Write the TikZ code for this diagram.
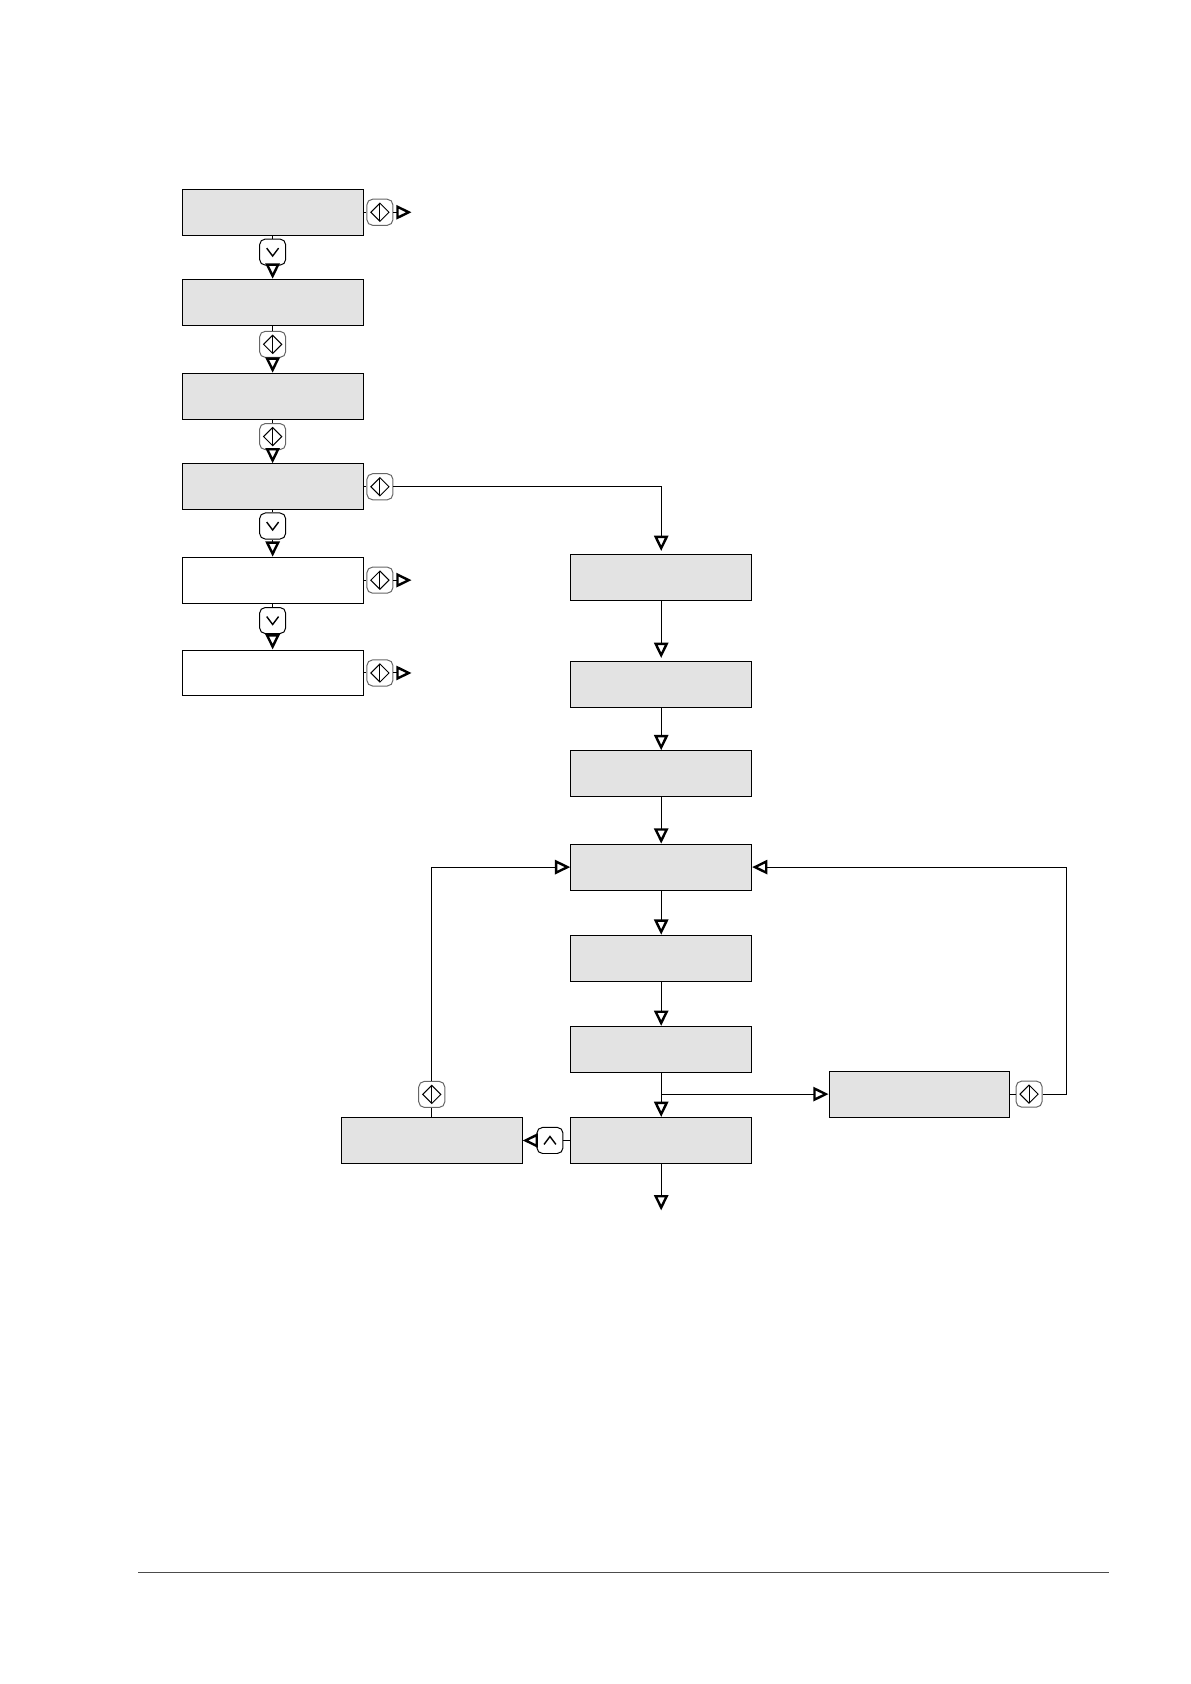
\documentclass[tikz,border=0pt]{standalone}
\usepackage{xcolor}
\usepackage{tikz}
\usetikzlibrary{positioning,arrows.meta}
\begin{document}
\begin{tikzpicture}[
  line width=0.5pt,
  gbox/.style={draw, fill=black!11, minimum width=3.19cm, minimum height=0.81cm, inner sep=0pt},
  wbox/.style={gbox, fill=white},
  keybase/.style={rounded corners=0.1cm, minimum size=0.46cm, inner sep=0pt, fill=white},
  keyok/.style={keybase, draw=black!60, path picture={
    \draw[black, sharp corners] (path picture bounding box.center) ++(0,0.16) -- ++(0.16,-0.16) -- ++(-0.16,-0.16) -- ++(-0.16,0.16) -- cycle;
    \draw[black, sharp corners] (path picture bounding box.center) ++(0,0.16) -- ++(0,-0.32);}},
  keydown/.style={keybase, draw, path picture={
    \draw[black, sharp corners, line width=0.7pt] (path picture bounding box.center) ++(-0.105,0.07) -- ++(0.105,-0.14) -- ++(0.105,0.14);}},
  keyup/.style={keybase, draw, path picture={
    \draw[black, sharp corners, line width=0.7pt] (path picture bounding box.center) ++(-0.105,-0.07) -- ++(0.105,0.14) -- ++(0.105,-0.14);}},
  flow/.style={-{Triangle[open, length=0.27cm, width=0.25cm, line width=1.2pt]}},
  short/.style={flow, shorten >=0.05cm}
]
\useasboundingbox (0,0) rectangle (21,-29.71);

\node[gbox] (b1) at (4.81,-3.745) {};
\node[gbox, below=0.76cm of b1] (b2) {};
\node[gbox, below=0.83cm of b2] (b3) {};
\node[gbox, below=0.77cm of b3] (b4) {};
\node[wbox, below=0.82cm of b4] (b5) {};
\node[wbox, below=0.81cm of b5] (b6) {};

\node[gbox] (r1) at (11.665,-10.185) {};
\node[gbox, below=1.06cm of r1] (r2) {};
\node[gbox, below=0.75cm of r2] (r3) {};
\node[gbox, below=0.82cm of r3] (r4) {};
\node[gbox, below=0.78cm of r4] (r5) {};
\node[gbox, below=0.78cm of r5] (r6) {};
\node[gbox, below=0.78cm of r6] (r7) {};
\node[gbox, left=0.84cm of r7] (back) {};
\node[gbox, right=1.35cm of r6, yshift=-0.79cm] (side) {};

\node[keyok, right=0.05cm of b1] (k1) {};
\node[keydown, below=0.05cm of b1] (k2) {};
\node[keyok, below=0.09cm of b2] (k3) {};
\node[keyok, below=0.06cm of b3] (k4) {};
\node[keyok, right=0.05cm of b4] (k5) {};
\node[keydown, below=0.04cm of b4] (k6) {};
\node[keyok, right=0.05cm of b5] (k7) {};
\node[keydown, below=0.06cm of b5] (k8) {};
\node[keyok, right=0.05cm of b6] (k9) {};
\node[keyup, left=0.12cm of r7] (k10) {};
\node[keyok, above=0.16cm of back] (k11) {};
\node[keyok, right=0.09cm of side] (k12) {};

\coordinate[right=0.32cm of k1] (e1);
\coordinate[right=0.32cm of k7] (e7);
\coordinate[right=0.32cm of k9] (e9);
\coordinate[below=0.82cm of r7] (e10);
\coordinate[right=0.42cm of k12] (turn);
\coordinate (branch) at (r6.south |- side.west);
\coordinate (ruleL) at (2.44,-27.75);
\coordinate (ruleR) at (19.57,-27.75);

\foreach \a/\b in {b1/k1,b5/k7,b6/k9} \draw (\a.east) -- (\b.west);
\draw[flow] (k1.east) -- (e1);
\draw[flow] (k7.east) -- (e7);
\draw[flow] (k9.east) -- (e9);

\foreach \a/\k/\b in {b1/k2/b2,b2/k3/b3,b3/k4/b4,b4/k6/b5,b5/k8/b6} {
  \draw (\a.south) -- (\k.north);
  \draw[flow] (\k.south) -- (\b.north);
}

\draw (b4.east) -- (k5.west);
\draw[short] (k5.east) -| (r1.north);
\draw[short] (r1.south) -- (r2.north);
\foreach \a/\b in {r2/r3,r3/r4,r4/r5,r5/r6,r6/r7} \draw[flow] (\a.south) -- (\b.north);
\draw[flow] (r7.south) -- (e10);

\draw[flow] (branch) -- (side.west);
\draw (side.east) -- (k12.west);
\draw[flow] (k12.east) -- (turn) |- (r4.east);

\draw (r7.west) -- (k10.east);
\draw[flow] (k10.west) -- (back.east);
\draw (back.north) -- (k11.south);
\draw[flow] (k11.north) |- (r4.west);

\draw[black!70] (ruleL) -- (ruleR);
\end{tikzpicture}
\end{document}
